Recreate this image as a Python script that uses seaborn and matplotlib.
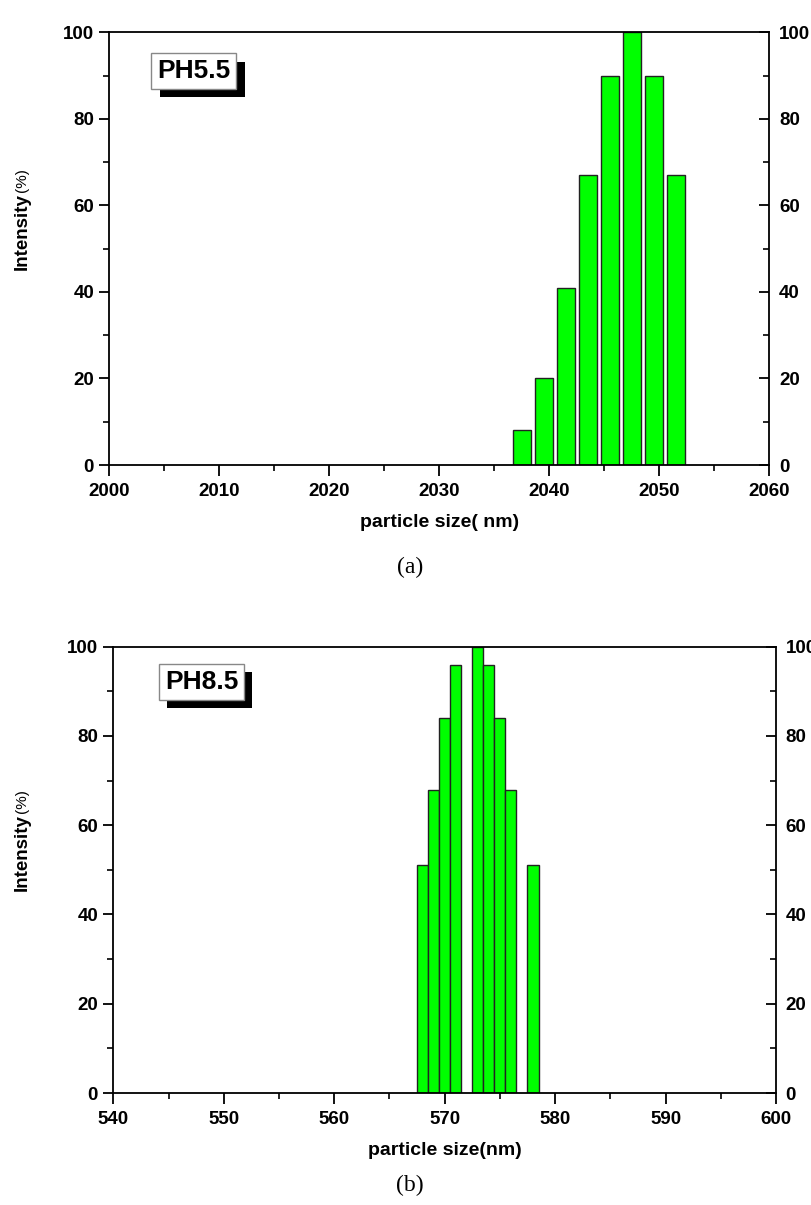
import numpy as np
import pandas as pd
import seaborn as sns
import matplotlib
matplotlib.use("Agg")
import matplotlib.pyplot as plt
from matplotlib.ticker import MultipleLocator
import matplotlib.patheffects as pe

# ---- data ----
size_a = [2037.5, 2039.5, 2041.5, 2043.5, 2045.5, 2047.5, 2049.5, 2051.5]
intensity_a = [8, 20, 41, 67, 90, 100, 90, 67]

size_b = [568, 569, 570, 571, 573, 574, 575, 576, 578]
intensity_b = [51, 68, 84, 96, 100, 96, 84, 68, 51]

xticks_a = [2000, 2010, 2020, 2030, 2040, 2050, 2060]
xticks_b = [540, 550, 560, 570, 580, 590, 600]
yticks = [0, 20, 40, 60, 80, 100]

sns.set_theme(style="white")
plt.rcParams['font.family'] = ['Liberation Sans', 'DejaVu Sans']

W, H = 812, 1205
fig = plt.figure(figsize=(W / 100, H / 100), dpi=100)
ax1 = fig.add_axes([109.3/W, 1-465/H, 660/W, 432.7/H])
ax2 = fig.add_axes([113.3/W, 1-1093/H, 662.7/W, 446.3/H])

GREEN = "#00ff00"


def style(ax, df, width, xticks, xlabel, tag, ylab_y):
    sns.barplot(data=df, x="size", y="intensity", native_scale=True,
                color=GREEN, saturation=1, edgecolor="#222222", linewidth=1.0,
                width=width, errorbar=None, ax=ax)
    ax.set_xlim(xticks[0], xticks[-1])
    ax.set_ylim(0, 100)
    ax.set_xticks(xticks)
    ax.set_yticks(yticks)
    ax.xaxis.set_minor_locator(MultipleLocator(5))
    ax.yaxis.set_minor_locator(MultipleLocator(10))
    for s in ax.spines.values():
        s.set_visible(True)
        s.set_color("black")
        s.set_linewidth(1.3)
    ax.tick_params(axis="x", which="both", direction="out", bottom=True, top=False,
                   colors="black", labelsize=13.5, pad=5)
    ax.tick_params(axis="x", which="major", length=8, width=1.3)
    ax.tick_params(axis="x", which="minor", length=4, width=1.2)
    ax.tick_params(axis="y", which="both", left=True, right=False,
                   labelleft=True, labelright=False, colors="black",
                   labelsize=13.5, direction="out", pad=4)
    ax.tick_params(axis="y", which="major", length=7, width=1.3)
    ax.tick_params(axis="y", which="minor", length=4, width=1.2)
    for lab in ax.get_xticklabels() + ax.get_yticklabels():
        lab.set_fontweight("bold")

    # right-hand axis: inward ticks, labels outside
    axr = ax.twinx()
    axr.set_ylim(0, 100)
    axr.set_yticks(yticks)
    axr.yaxis.set_minor_locator(MultipleLocator(10))
    axr.grid(False)
    for s in axr.spines.values():
        s.set_visible(False)
    axr.tick_params(axis="y", which="both", direction="in", right=True, left=False,
                    labelright=True, colors="black", labelsize=13.5, pad=7)
    axr.tick_params(axis="y", which="major", length=7, width=1.3)
    axr.tick_params(axis="y", which="minor", length=4, width=1.2)
    for lab in axr.get_yticklabels():
        lab.set_fontweight("bold")

    ax.set_xlabel(xlabel, fontsize=14, fontweight="bold", labelpad=10, color="black")
    ax.set_ylabel("")
    # y label: "Intensity" bold + smaller "(%)"
    t = ax.text(22/W, ylab_y, "Intensity", transform=fig.transFigure, rotation=90,
                fontsize=13.5, fontweight="bold", ha="center", va="center", color="black")
    ax.annotate("(%)", xy=(0.5, 1.0), xycoords=t, rotation=90,
                fontsize=11, ha="center", va="bottom", color="black",
                xytext=(0, 1), textcoords="offset points")
    # label box with shadow
    tt = ax.text(tag[1], tag[2], tag[0], transform=ax.transAxes, fontsize=19,
                 fontweight="bold", color="black", ha="center", va="center",
                 bbox=dict(boxstyle="square,pad=0.22", facecolor="white",
                           edgecolor="#888888", linewidth=1.0))
    tt.get_bbox_patch().set_path_effects([
        pe.SimplePatchShadow(offset=(6, -6), shadow_rgbFace="black", alpha=1.0),
        pe.Normal()])


df_a = pd.DataFrame({"size": size_a, "intensity": intensity_a})
df_b = pd.DataFrame({"size": size_b, "intensity": intensity_b})

style(ax1, df_a, 0.8, xticks_a, "particle size( nm)", ("PH5.5", 0.128, 0.91), 1-232/H)
style(ax2, df_b, 1.0, xticks_b, "particle size(nm)", ("PH8.5", 0.133, 0.921), 1-853/H)

fig.text(410/W, 1-567/H, "(a)", fontsize=17, family="Liberation Serif",
         ha="center", va="center", color="black")
fig.text(410/W, 1-1185/H, "(b)", fontsize=17, family="Liberation Serif",
         ha="center", va="center", color="black")

fig.savefig("out.png", dpi=100, facecolor="white")
